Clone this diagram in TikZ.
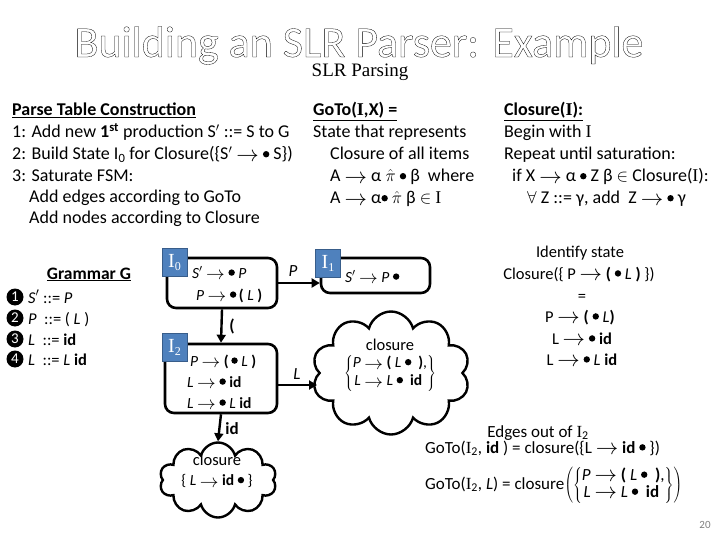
\documentclass[tikz,border=0pt]{standalone}
\usepackage{fontspec}
\setmainfont{Carlito}
\newfontfamily\tnr{Liberation Serif}
\usetikzlibrary{shapes.symbols,arrows.meta}
\definecolor{lblue}{HTML}{4F81BD}
\definecolor{lbord}{HTML}{385D8A}
\newsavebox\bulbox
\sbox\bulbox{\tikz\fill (0,0) circle (3.2pt);}
\newcommand\bul{\raisebox{0.3ex}{\usebox\bulbox}}
\newcommand\ar{\raisebox{-0.2ex}{\scalebox{1.3}{$\rightarrow$}}}
\newcommand\sI{{\tnr I}}
\newcommand\outl[1]{\special{pdf:literal direct 1 Tr 0.3 w}#1\special{pdf:literal direct 0 Tr}}
\newcommand\lab[1]{I\raisebox{-3pt}{\fontsize{12}{12}\selectfont #1}}
\tikzset{
  txt/.style={anchor=base west, inner sep=0pt, font=\fontsize{18}{21}\selectfont},
  ctxt/.style={anchor=base, inner sep=0pt, font=\fontsize{16.5}{19}\selectfont},
  btxt/.style={anchor=base west, inner sep=0pt, font=\fontsize{15.5}{18}\selectfont},
  statebox/.style={draw, line width=2.6pt, rounded corners=9pt, inner sep=0pt},
  lbl/.style={fill=lblue, draw=lbord, line width=0.8pt, text=white, minimum width=25pt, minimum height=28pt, inner sep=0pt, font=\tnr\fontsize{20}{20}\selectfont},
  arr/.style={line width=2.4pt, -{Triangle[length=8pt,width=9pt]}},
  elab/.style={inner sep=0pt, font=\fontsize{16}{19}\selectfont},
  cloudbox/.style={cloud, draw, line width=2.4pt, cloud puffs=10, cloud ignores aspect, inner sep=0pt},
  num/.style={circle, fill=black, text=white, minimum size=17pt, inner sep=0pt, font=\fontsize{15}{15}\selectfont}
}
\begin{document}
\begin{tikzpicture}[x=1pt,y=-1pt]
\useasboundingbox (0,0) rectangle (720,540);
% title
\node[anchor=base, inner sep=0pt, font=\fontsize{44}{48}\selectfont] (title) at (359,57) {\outl{Building an SLR Parser: Example}};
\node[anchor=base, inner sep=0pt, font=\tnr\fontsize{19}{22}\selectfont] (sub) at (360,77) {SLR Parsing};
% left column
\node[txt] (l0) at (12,116) {\textbf{\underline{Parse Table Construction}}};
\node[txt] (l1) at (12,138) {1: Add new \textbf{1\textsuperscript{st}} production S$'$ ::= S to G};
\node[txt] (l2) at (12,160) {2: Build State I\textsubscript{0} for Closure(\{S$'$ \ar\ \bul\ S\})};
\node[txt] (l3) at (12,182) {3: Saturate FSM:};
\node[txt] (l4) at (29,203) {Add edges according to GoTo};
\node[txt] (l5) at (29,224) {Add nodes according to Closure};
% middle column
\node[txt] (g0) at (313,116) {\textbf{\underline{GoTo(\sI,X) =}}};
\node[txt] (g1) at (313,138) {State that represents};
\node[txt] (g2) at (330,160) {Closure of all items};
\node[txt] (g3) at (330,182) {A \ar\ α $\hat{\pi}$ \bul\ β\ \ where};
\node[txt] (g4) at (330,204) {A \ar\ α\bul\ $\hat{\pi}$ β $\in$ \sI};
% right column
\node[txt] (c0) at (504,116) {\textbf{\underline{Closure(\sI):}}};
\node[txt] (c1t) at (504,138) {Begin with \sI};
\node[txt] (c2t) at (504,160) {Repeat until saturation:};
\node[txt] (c3t) at (512,182) {if X \ar\ α \bul\ Z β $\in$ Closure(\sI):};
\node[txt] (c4t) at (527,204) {$\forall$ Z ::= γ, add\ \ Z \ar\ \bul\ γ};
% grammar
\node[ctxt, font=\fontsize{17.5}{20}\selectfont] (gg) at (89,279) {\textbf{\underline{Grammar G}}};
\node[num] (n1) at (15,297) {1};
\node[num] (n2) at (15,318) {2};
\node[num] (n3) at (15,339) {3};
\node[num] (n4) at (15,359) {4};
\node[btxt, font=\fontsize{16.5}{19}\selectfont] (r1) at (28,303) {\textit{S}$'$ ::= \textit{P}};
\node[btxt, font=\fontsize{16.5}{19}\selectfont] (r2) at (28,324) {\textit{P}\ \ ::= ( \textit{L} )};
\node[btxt, font=\fontsize{16.5}{19}\selectfont] (r3) at (28,345) {\textit{L}\ \ ::= \textbf{id}};
\node[btxt, font=\fontsize{16.5}{19}\selectfont] (r4) at (28,365) {\textit{L}\ \ ::= \textit{L} \textbf{id}};
% states
\node[statebox, minimum width=110pt, minimum height=50pt] (i0) at (222,283) {};
\node[statebox, minimum width=109pt, minimum height=35pt] (i1) at (375.5,275.5) {};
\node[statebox, minimum width=112pt, minimum height=69pt] (i2) at (221,378.5) {};
\node[btxt] (i0a) at (192,278) {\textit{S}$'$ \ar\ \bul\ \textit{P}};
\node[btxt] (i0b) at (196,300) {\textit{P} \ar\ \bul\,\textbf{(} \textit{L} \textbf{)}};
\node[btxt] (i1a) at (345,282) {\textit{S}$'$ \ar\ \textit{P} \bul};
\node[btxt] (i2a) at (190,366) {\textit{P} \ar\ \textbf{(}\,\bul\ \textit{L} \textbf{)}};
\node[btxt] (i2b) at (187,387) {\textit{L} \ar\ \bul\ \textbf{id}};
\node[btxt] (i2c) at (187,408) {\textit{L} \ar\ \bul\ \textit{L} \textbf{id}};
\node[lbl] (b0) at (174.5,262.5) {\lab{0}};
\node[lbl] (b1) at (328,263) {\lab{1}};
\node[lbl] (b2) at (174.5,347.5) {\lab{2}};
% clouds
\node[cloudbox, minimum width=158pt, minimum height=123pt] (cl1) at (391,373) {};
\node[cloudbox, minimum width=117pt, minimum height=75pt] (cl2) at (218,480) {};
\node[anchor=center, inner sep=0pt, font=\fontsize{16.5}{19}\selectfont] (cl1a) at (390,345) {closure};
\node[anchor=center, inner sep=0pt, font=\fontsize{15.5}{18}\selectfont] (cl1b) at (390,373) {$\left\{\vcenter{\hbox{\begin{tabular}{@{}c@{}}\textit{P}\ \ar\ \textbf{(} \textit{L} \bul\ \ \textbf{)},\\ \textit{L} \ar\ \textit{L} \bul\ \ \textbf{id}\ \ \end{tabular}}}\right\}$};
\node[anchor=center, inner sep=0pt, font=\fontsize{16.5}{19}\selectfont] (cl2a) at (217,460) {closure};
\node[anchor=center, inner sep=0pt, font=\fontsize{15.5}{18}\selectfont] (cl2b) at (217,481) {\{ \textit{L} \ar\ \textbf{id} \bul\ \}};
% edges
\coordinate (c1in) at (317,385);
\draw[arr] (i0.east) -- (i0.east -| i1.west);
\draw[arr] (i0.south) -- (i2.north);
\draw[arr] (i2.east |- c1in) -- (c1in);
\draw[arr] (i2.south) -- (cl2.north);
\node[elab, font=\itshape\fontsize{17}{19}\selectfont] (e1) at (293,271) {P};
\node[elab, font=\bfseries\fontsize{17}{19}\selectfont] (e2) at (232,326) {(};
\node[elab, font=\itshape\fontsize{17}{19}\selectfont] (e3) at (297,374) {L};
\node[elab, font=\bfseries\fontsize{17}{19}\selectfont] (e4) at (232,429) {id};
% right side text
\node[ctxt] (s1) at (580,258) {Identify state};
\node[ctxt] (s2) at (579,279) {Closure(\{ P \ar\ \textbf{(} \bul\ \textit{L} \textbf{)} \})};
\node[ctxt] (s3) at (582,301) {=};
\node[ctxt] (s4) at (580,322) {P \ar\ \textbf{(} \bul\ \textit{L}\textbf{)}};
\node[ctxt] (s5) at (582,344) {L \ar\ \bul\ \textbf{id}};
\node[ctxt] (s6) at (582,365) {L \ar\ \bul\ \textit{L} \textbf{id}};
% edges out of I2
\node[ctxt, font=\fontsize{17}{19}\selectfont] (o0) at (538,437) {Edges out of \sI\textsubscript{2}};
\node[anchor=base west, inner sep=0pt, font=\fontsize{17}{19}\selectfont] (o1) at (425,453) {GoTo(\sI\textsubscript{2}, \textbf{id} ) = closure(\{L \ar\ \textbf{id} \bul\ \})};
\node[anchor=west, inner sep=0pt, font=\fontsize{17}{19}\selectfont] (o2) at (425,485) {GoTo(\sI\textsubscript{2}, \textit{L}) = closure$\left(\left\{\vcenter{\hbox{\begin{tabular}{@{}c@{}}\textit{P}\ \ar\ \textbf{(} \textit{L} \bul\ \ \textbf{)},\\[-2pt] \textit{L} \ar\ \textit{L} \bul\ \ \textbf{id}\ \ \end{tabular}}}\right\}\right)$};
\node[anchor=center, inner sep=0pt, text=gray, font=\fontsize{11}{12}\selectfont] (pg) at (705,525) {20};
\end{tikzpicture}
\end{document}
